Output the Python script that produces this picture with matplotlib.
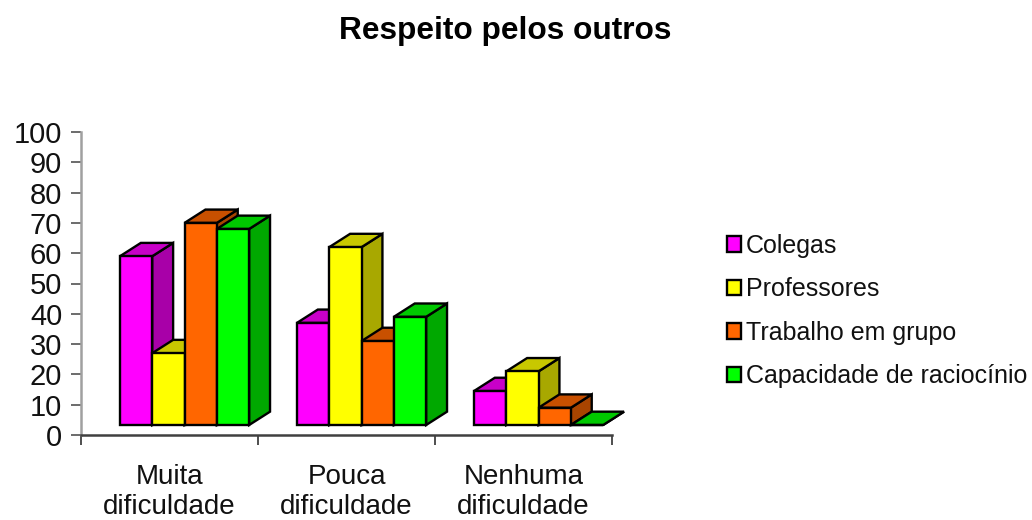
# fake 3D clustered columns, same look as the office chart
import matplotlib
matplotlib.use('Agg')
import matplotlib.pyplot as plt
from matplotlib.patches import Patch
import numpy as np

plt.rcParams['font.family'] = ['Liberation Sans', 'DejaVu Sans']

categories = ['Muita\ndificuldade', 'Pouca\ndificuldade', 'Nenhuma\ndificuldade']
series_names = ['Colegas', 'Professores', 'Trabalho em grupo', 'Capacidade de raciocínio']
colegas = [59, 37, 14.5]
professores = [27, 62, 21]
trabalho = [70, 31, 9]
capacidade = [68, 39, 3.3]
yticks = list(range(0, 101, 10))

series = [colegas, professores, trabalho, capacidade]
front = ['#FF00FF', '#FFFF00', '#FF6600', '#00FF00']
top = ['#C800C8', '#C8C800', '#C85000', '#00C800']
side = ['#A800A8', '#A8A800', '#A84400', '#00A800']

W, H = 1032, 520
fig = plt.figure(figsize=(W/100, H/100), dpi=100)
ax = fig.add_axes([81/W, 1-435/H, (612-81)/W, (435-132)/H])
ax.set_xlim(0, 3)
ax.set_ylim(0, 100)

floor = 3.3     # front edge of the bars sits above the axis line
barw = 0.1825
gap = 0.22      # axis to first bar
dx = 0.118
dy = 4.4
lw = 1.7

for i, vals in enumerate(series):
    for j, v in enumerate(vals):
        x0 = j + gap + i*barw
        x1 = x0 + barw
        z = 3 + i*3 + j*20
        # side, top, then the front face
        ax.fill([x1, x1+dx, x1+dx, x1], [floor, floor+dy, v+dy, v], fc=side[i], ec='black', lw=lw, zorder=z, clip_on=False)
        ax.fill([x0, x1, x1+dx, x0+dx], [v, v, v+dy, v+dy], fc=top[i], ec='black', lw=lw, zorder=z+1, clip_on=False)
        ax.bar(x0, v-floor, bottom=floor, width=barw, align='edge', color=front[i], edgecolor='black', lw=lw, zorder=z+2, clip_on=False)

for s in ['top', 'right']:
    ax.spines[s].set_visible(False)
ax.spines['left'].set_color('#a0a0a0')
ax.spines['left'].set_linewidth(1.8)
ax.spines['bottom'].set_color('#404040')
ax.spines['bottom'].set_linewidth(1.8)

ax.set_yticks(yticks)
ax.set_xticks([0, 1, 2, 3])
ax.set_xticklabels([])
ax.set_xticks(np.arange(3)+0.5, minor=True)
ax.set_xticklabels(categories, minor=True, fontsize=20, linespacing=1.2)
ax.tick_params(axis='y', length=7.5, width=1.3, color='#606060', labelsize=21, pad=6, labelcolor='#111111')
ax.tick_params(axis='x', which='major', length=7.5, width=1.3, color='#404040')
ax.tick_params(axis='x', which='minor', length=0, pad=21, labelcolor='#111111')

fig.text(505/W, 1-31/H, 'Respeito pelos outros', ha='center', va='center', fontsize=22.8, fontweight='bold', color='black')

handles = [Patch(fc=c, ec='black', lw=1.7) for c in front]
fig.legend(handles, series_names, loc='center left', bbox_to_anchor=(727/W, 1-311/H), frameon=False,
           fontsize=18, labelcolor='#111111', handlelength=0.56, handleheight=0.56,
           handletextpad=0.2, labelspacing=0.78, borderaxespad=0, borderpad=0)

fig.savefig('out.png', dpi=100)
